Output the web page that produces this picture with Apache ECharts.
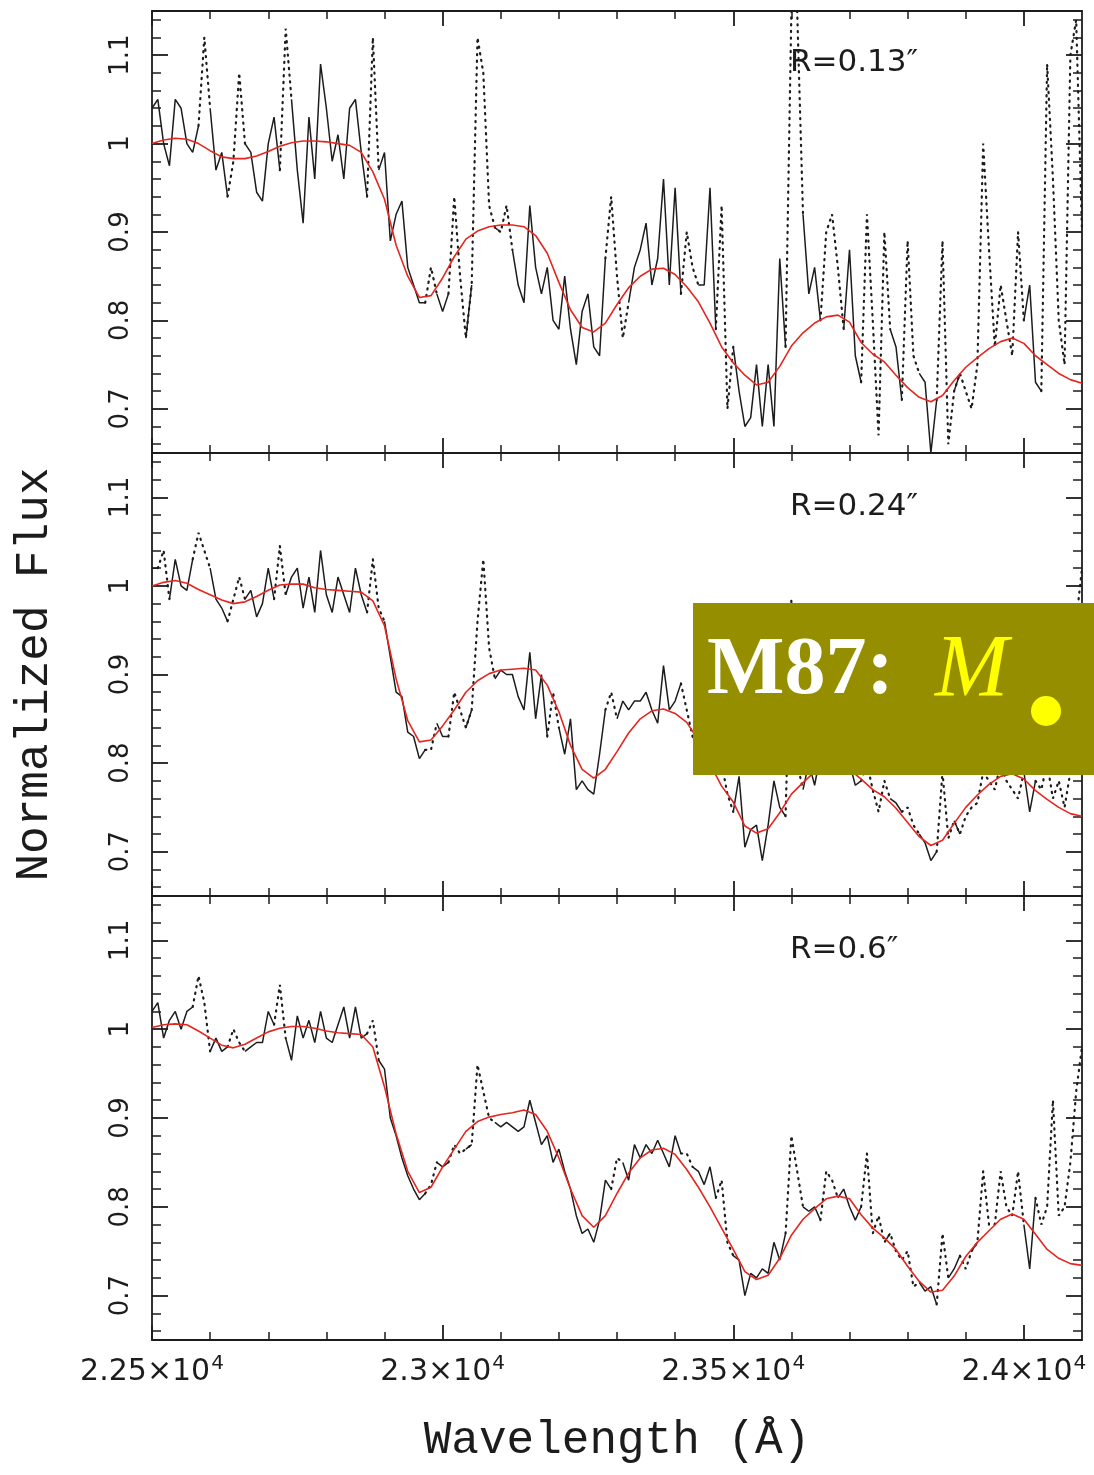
<!DOCTYPE html>
<html>
<head>
<meta charset="utf-8">
<title>M87 spectra</title>
<script src="https://cdn.jsdelivr.net/npm/echarts@6/dist/echarts.min.js"></script>
<style>
  html, body { margin: 0; padding: 0; background: #ffffff; }
  #chart { width: 1094px; height: 1475px; }
</style>
</head>
<body>
<div id="chart"></div>
<script>
// Wavelength grid of the observed spectra (Angstrom): start + step
const OBS_START = 22500, OBS_STEP = 10;
// Wavelength grid of the model spectra
const MODEL_START = 22500, MODEL_STEP = 20;

const X_MIN = 22500, X_MAX = 24100;
const Y_MIN = 0.65, Y_MAX = 1.15;

// Tick labels
const xMajorTicks = [22500, 23000, 23500, 24000];
const xTickLabels = ['2.25', '2.3', '2.35', '2.4'];
const yMajorTicks = [0.7, 0.8, 0.9, 1.0, 1.1];
const yTickLabels = ['0.7', '0.8', '0.9', '1', '1.1'];

// Aperture radius of each panel
const panelLabels = ['R=0.13\u2033', 'R=0.24\u2033', 'R=0.6\u2033'];

// Observed normalized flux, R = 0.13"
const obs013 = [
  1.04,1.05,1.00,0.975,1.05,1.04,1.00,0.99,1.02,1.12,
  1.04,0.97,0.99,0.94,0.98,1.08,1.00,0.99,0.945,0.935,
  1.00,1.03,0.97,1.13,1.05,0.97,0.91,1.03,0.96,1.09,
  1.04,0.98,1.01,0.96,1.04,1.05,0.99,0.94,1.12,0.97,
  0.99,0.89,0.92,0.935,0.86,0.84,0.82,0.82,0.86,0.83,
  0.81,0.83,0.94,0.85,0.78,0.84,1.12,1.08,0.93,0.905,
  0.90,0.93,0.88,0.84,0.82,0.93,0.86,0.83,0.86,0.80,
  0.79,0.85,0.79,0.75,0.81,0.83,0.77,0.76,0.87,0.94,
  0.85,0.78,0.82,0.86,0.88,0.91,0.84,0.87,0.96,0.84,
  0.95,0.83,0.90,0.86,0.84,0.84,0.95,0.79,0.93,0.70,
  0.77,0.72,0.68,0.69,0.75,0.68,0.75,0.68,0.87,0.77,
  1.15,1.15,0.92,0.83,0.86,0.80,0.90,0.92,0.86,0.79,
  0.88,0.76,0.73,0.92,0.80,0.67,0.90,0.79,0.77,0.71,
  0.89,0.76,0.74,0.73,0.65,0.71,0.89,0.66,0.72,0.74,
  0.72,0.70,0.75,1.00,0.88,0.77,0.84,0.80,0.76,0.90,
  0.80,0.84,0.73,0.72,1.09,0.96,0.80,0.75,1.10,1.14,
  0.90
];
// Observed normalized flux, R = 0.24"
const obs024 = [
  1.02,1.02,1.04,0.985,1.03,1.00,0.995,1.03,1.06,1.04,
  1.02,0.985,0.975,0.96,0.985,1.01,0.985,0.995,0.965,0.98,
  1.02,0.985,1.045,0.99,1.01,1.02,0.975,1.01,0.97,1.04,
  0.99,0.97,1.01,0.99,0.97,1.02,0.99,0.97,1.03,0.975,
  0.96,0.92,0.88,0.875,0.835,0.83,0.805,0.815,0.815,0.845,
  0.83,0.83,0.88,0.86,0.84,0.86,0.96,1.03,0.93,0.895,
  0.905,0.90,0.90,0.875,0.86,0.925,0.85,0.90,0.83,0.88,
  0.84,0.81,0.85,0.77,0.78,0.77,0.765,0.81,0.86,0.88,
  0.85,0.87,0.86,0.87,0.87,0.88,0.86,0.845,0.91,0.86,
  0.87,0.89,0.86,0.83,0.82,0.81,0.80,0.79,0.80,0.765,
  0.745,0.785,0.705,0.725,0.73,0.69,0.73,0.78,0.75,0.74,
  0.985,0.80,0.77,0.80,0.775,0.81,0.83,0.85,0.80,0.82,
  0.80,0.775,0.78,0.80,0.77,0.745,0.78,0.76,0.755,0.745,
  0.75,0.73,0.72,0.71,0.69,0.70,0.79,0.715,0.735,0.72,
  0.74,0.75,0.755,0.79,0.78,0.77,0.80,0.78,0.77,0.76,
  0.79,0.745,0.78,0.77,0.80,0.76,0.78,0.75,0.79,0.96,
  1.02
];
// Observed normalized flux, R = 0.6"
const obs06 = [
  1.02,1.03,0.99,1.01,1.02,1.00,1.02,1.025,1.06,1.03,
  0.975,0.99,0.975,0.98,1.00,0.985,0.975,0.98,0.985,0.985,
  1.02,1.005,1.05,0.99,0.965,1.015,0.99,1.01,0.985,1.02,
  0.99,0.985,1.005,1.025,0.99,1.025,0.99,0.995,1.01,0.965,
  0.955,0.90,0.88,0.855,0.835,0.82,0.808,0.815,0.825,0.85,
  0.845,0.85,0.87,0.86,0.865,0.87,0.96,0.93,0.90,0.895,
  0.89,0.895,0.89,0.885,0.89,0.92,0.895,0.87,0.88,0.85,
  0.865,0.84,0.82,0.79,0.77,0.775,0.76,0.785,0.83,0.82,
  0.855,0.85,0.83,0.87,0.855,0.87,0.86,0.875,0.86,0.845,
  0.88,0.86,0.86,0.845,0.84,0.825,0.845,0.81,0.83,0.76,
  0.745,0.74,0.70,0.725,0.72,0.73,0.725,0.76,0.74,0.77,
  0.88,0.84,0.80,0.795,0.80,0.785,0.84,0.83,0.81,0.82,
  0.80,0.785,0.80,0.86,0.77,0.79,0.76,0.77,0.75,0.74,
  0.75,0.71,0.715,0.705,0.71,0.69,0.77,0.72,0.73,0.745,
  0.73,0.75,0.76,0.84,0.78,0.78,0.84,0.80,0.79,0.84,
  0.78,0.73,0.81,0.78,0.80,0.92,0.79,0.80,0.85,0.93,
  0.98
];

// Wavelength ranges excluded from the fit (drawn dotted)
const mask013 = [[22590,22590],[22640,22650],[22730,22730],[22880,22880],[22980,22980],
  [23020,23030],[23060,23080],[23110,23110],[23290,23310],[23420,23430],[23480,23490],
  [23600,23610],[23660,23680],[23730,23760],[23800,23810],[23860,23870],[23900,23910],
  [23930,23940],[23960,23970],[23990,23990],[24040,24060],[24080,24100]];
const mask024 = [[22520,22520],[22580,22590],[22640,22650],[22720,22720],[22880,22890],
  [22980,22980],[23020,23030],[23060,23080],[23190,23190],[23290,23290],[23420,23420],
  [23480,23490],[23600,23610],[23660,23670],[23730,23760],[23800,23810],[23860,23870],
  [23900,23910],[23930,23940],[23960,23970],[23990,23990],[24030,24060],[24080,24100]];
const mask06 = [[22580,22590],[22640,22650],[22720,22720],[22880,22880],[22980,22980],
  [23020,23030],[23060,23080],[23300,23300],[23420,23420],[23480,23490],[23600,23610],
  [23660,23670],[23730,23750],[23780,23780],[23800,23810],[23860,23860],[23900,23900],
  [23930,23930],[23950,23970],[23990,23990],[24030,24100]];

// Best-fitting model spectra
const model013 = [
  1.000,1.004,1.006,1.005,1.000,0.992,0.985,0.983,0.983,0.986,
  0.991,0.997,1.001,1.003,1.003,1.002,1.000,0.998,0.990,0.968,
  0.937,0.885,0.850,0.826,0.828,0.848,0.872,0.892,0.901,0.906,
  0.908,0.908,0.906,0.896,0.876,0.843,0.812,0.792,0.787,0.797,
  0.818,0.837,0.850,0.858,0.859,0.852,0.838,0.821,0.797,0.770,
  0.752,0.738,0.727,0.730,0.748,0.771,0.786,0.797,0.804,0.806,
  0.798,0.775,0.762,0.753,0.738,0.724,0.713,0.708,0.715,0.732,
  0.747,0.758,0.768,0.776,0.780,0.774,0.760,0.750,0.740,0.733,
  0.729
];
const model024 = [
  1.000,1.004,1.006,1.003,0.996,0.990,0.984,0.980,0.982,0.988,
  0.995,1.001,1.002,1.002,0.998,0.996,0.995,0.994,0.993,0.983,
  0.955,0.895,0.848,0.824,0.826,0.842,0.860,0.880,0.893,0.901,
  0.905,0.906,0.907,0.905,0.888,0.858,0.820,0.793,0.783,0.793,
  0.813,0.834,0.850,0.859,0.861,0.856,0.846,0.826,0.799,0.774,
  0.756,0.729,0.721,0.726,0.744,0.765,0.778,0.790,0.800,0.802,
  0.793,0.782,0.770,0.762,0.749,0.733,0.717,0.707,0.713,0.732,
  0.750,0.764,0.776,0.785,0.788,0.782,0.769,0.759,0.750,0.743,
  0.740
];
const model06 = [
  1.002,1.005,1.006,1.005,0.998,0.990,0.982,0.979,0.983,0.990,
  0.997,1.001,1.003,1.003,1.001,0.998,0.996,0.995,0.994,0.980,
  0.935,0.882,0.840,0.816,0.822,0.845,0.865,0.885,0.896,0.901,
  0.904,0.906,0.909,0.904,0.885,0.855,0.820,0.790,0.777,0.790,
  0.815,0.838,0.855,0.864,0.866,0.859,0.842,0.822,0.800,0.776,
  0.752,0.727,0.718,0.723,0.742,0.768,0.786,0.798,0.809,0.812,
  0.809,0.791,0.776,0.765,0.752,0.733,0.716,0.704,0.706,0.722,
  0.744,0.760,0.773,0.786,0.792,0.786,0.769,0.752,0.742,0.736,
  0.734
];

const panels = [
  { obs: obs013, mask: mask013, model: model013 },
  { obs: obs024, mask: mask024, model: model024 },
  { obs: obs06,  mask: mask06,  model: model06 }
];

const INK = '#1c1c1c';
const RED = '#e5261f';
const TICK_FONT = '"DejaVu Sans", "Liberation Sans", sans-serif';
const TITLE_FONT = '"Liberation Mono", "DejaVu Sans Mono", monospace';

// minor tick positions (every 100 A, every 0.02 in flux) without the major ones
const xMinorTicks = [];
for (let w = X_MIN + 100; w < X_MAX; w += 100) if (w % 500 !== 0) xMinorTicks.push(w);
const yMinorTicks = [];
for (let k = 33; k <= 57; k++) if (k % 5 !== 0) yMinorTicks.push(+(k * 0.02).toFixed(2));

// split an observed spectrum into fitted (solid) and excluded (dotted) pieces
function splitSpectrum(vals, mask) {
  const masked = lam => mask.some(([a, b]) => lam >= a - 0.01 && lam <= b + 0.01);
  const solid = [], dotted = [];
  vals.forEach((v, i) => {
    const lam = OBS_START + i * OBS_STEP;
    const m = masked(lam);
    const near = masked(lam - OBS_STEP) || masked(lam + OBS_STEP);
    solid.push([lam, m ? '-' : v]);
    dotted.push([lam, (m || near) ? v : '-']);
  });
  return { solid, dotted };
}

const panelTops = [11, 453, 896];
const panelHeights = [442, 443, 444];

const grids = [], xAxes = [], yAxes = [], series = [];

panels.forEach((p, g) => {
  grids.push({ left: 152, width: 930, top: panelTops[g], height: panelHeights[g], show: false });

  const xBase = { type: 'value', gridIndex: g, min: X_MIN, max: X_MAX, splitLine: { show: false } };
  const yBase = { type: 'value', gridIndex: g, min: Y_MIN, max: Y_MAX, splitLine: { show: false } };
  const frame = { show: true, onZero: false, lineStyle: { color: INK, width: 1.8 } };
  const majorTick = (vals, len) => ({ show: true, inside: true, length: len, customValues: vals,
    lineStyle: { color: INK, width: 1.8 } });
  const minorTick = (vals, len) => ({ show: true, inside: true, length: len, customValues: vals,
    lineStyle: { color: INK, width: 1.5 } });

  // bottom
  const bottomMajor = Object.assign({}, xBase, {
    position: 'bottom', axisLine: frame, axisTick: majorTick(xMajorTicks, 15),
    axisLabel: g === 2 ? {
      show: true, customValues: xMajorTicks, margin: 14, color: INK,
      formatter: v => '{n|' + xTickLabels[xMajorTicks.indexOf(v)] + '\u00d710}{e|4}',
      rich: {
        n: { fontFamily: TICK_FONT, fontSize: 30, color: INK },
        e: { fontFamily: TICK_FONT, fontSize: 20, color: INK, padding: [0, 0, 16, 1] }
      }
    } : { show: false }
  });
  if (g === 2) {
    Object.assign(bottomMajor, {
      name: 'Wavelength (\u00c5)', nameLocation: 'middle', nameGap: 78,
      nameTextStyle: { fontFamily: TITLE_FONT, fontSize: 46, color: INK }
    });
  }
  xAxes.push(bottomMajor);
  xAxes.push(Object.assign({}, xBase, { position: 'bottom', axisLine: { show: false },
    axisTick: minorTick(xMinorTicks, 8), axisLabel: { show: false } }));
  // top
  xAxes.push(Object.assign({}, xBase, { position: 'top', axisLine: frame,
    axisTick: majorTick(xMajorTicks, 15), axisLabel: { show: false } }));
  xAxes.push(Object.assign({}, xBase, { position: 'top', axisLine: { show: false },
    axisTick: minorTick(xMinorTicks, 8), axisLabel: { show: false } }));

  // left
  const leftMajor = Object.assign({}, yBase, {
    position: 'left', axisLine: frame, axisTick: majorTick(yMajorTicks, 16),
    axisLabel: {
      show: true, customValues: yMajorTicks, rotate: 90, margin: 18, color: INK,
      fontFamily: TICK_FONT, fontSize: 26,
      formatter: v => yTickLabels[yMajorTicks.indexOf(v)]
    }
  });
  if (g === 1) {
    Object.assign(leftMajor, {
      name: 'Normalized Flux', nameLocation: 'middle', nameGap: 94,
      nameTextStyle: { fontFamily: TITLE_FONT, fontSize: 46, color: INK }
    });
  }
  yAxes.push(leftMajor);
  yAxes.push(Object.assign({}, yBase, { position: 'left', axisLine: { show: false },
    axisTick: minorTick(yMinorTicks, 9), axisLabel: { show: false } }));
  // right
  yAxes.push(Object.assign({}, yBase, { position: 'right', axisLine: frame,
    axisTick: majorTick(yMajorTicks, 16), axisLabel: { show: false } }));
  yAxes.push(Object.assign({}, yBase, { position: 'right', axisLine: { show: false },
    axisTick: minorTick(yMinorTicks, 9), axisLabel: { show: false } }));

  const parts = splitSpectrum(p.obs, p.mask);
  const modelData = p.model.map((v, i) => [MODEL_START + i * MODEL_STEP, v]);
  const common = { type: 'line', xAxisIndex: 4 * g, yAxisIndex: 4 * g, showSymbol: false,
    symbol: 'none', silent: true, animation: false, connectNulls: false, clip: true };

  series.push(Object.assign({}, common, { name: 'excluded ' + g, data: parts.dotted, z: 2,
    lineStyle: { color: INK, width: 2.2, type: [1.2, 5.5], cap: 'round' } }));
  series.push(Object.assign({}, common, { name: 'data ' + g, data: parts.solid, z: 3,
    lineStyle: { color: INK, width: 1.5 } }));
  series.push(Object.assign({}, common, { name: 'model ' + g, data: modelData, z: 4,
    lineStyle: { color: RED, width: 1.6 } }));
});

const labelY = [63, 507, 950];
const graphics = panelLabels.map((t, i) => ({
  type: 'text', x: 790, y: labelY[i], z: 10,
  style: { text: t, fill: INK, font: '31px ' + TICK_FONT, textAlign: 'left', textVerticalAlign: 'middle' }
}));

// M87 title badge, kept above the plotted spectra
const BADGE_Z = 200;
graphics.push(
  { type: 'rect', z: BADGE_Z, zlevel: 1, shape: { x: 693, y: 603, width: 401, height: 172 },
    style: { fill: '#958f00' } },
  { type: 'text', z: BADGE_Z + 1, zlevel: 1, x: 707, y: 672,
    style: { text: 'M87:', fill: '#ffffff', font: 'bold 82px "Liberation Serif", serif',
      textAlign: 'left', textVerticalAlign: 'middle' } },
  { type: 'text', z: BADGE_Z + 1, zlevel: 1, x: 935, y: 672,
    style: { text: 'M', fill: '#ffff00', font: 'italic 88px "Liberation Serif", serif',
      textAlign: 'left', textVerticalAlign: 'middle' } },
  { type: 'circle', z: BADGE_Z + 1, zlevel: 1, shape: { cx: 1046, cy: 711, r: 15 },
    style: { fill: '#ffff00' } }
);

const chart = echarts.init(document.getElementById('chart'), null, { renderer: 'canvas' });
chart.setOption({
  backgroundColor: '#ffffff',
  animation: false,
  grid: grids,
  xAxis: xAxes,
  yAxis: yAxes,
  series: series,
  graphic: graphics
});
</script>
</body>
</html>
